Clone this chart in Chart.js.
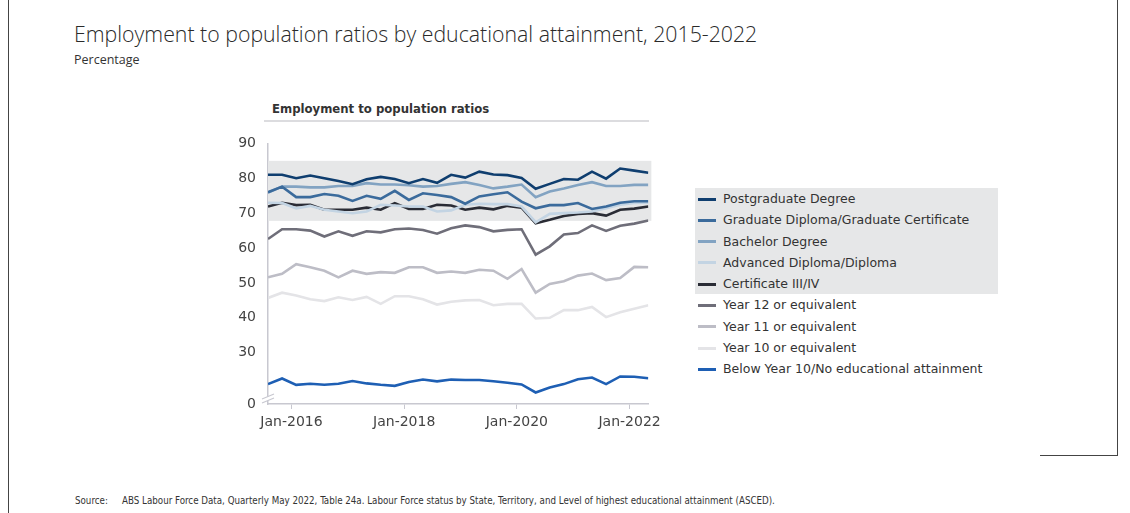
<!DOCTYPE html>
<html>
<head>
<meta charset="utf-8">
<script src="https://cdn.jsdelivr.net/npm/chart.js@4"></script>
<style>
  body { margin: 0; background: #fff; width: 1130px; height: 513px; overflow: hidden; position: relative; font-family: "DejaVu Sans", sans-serif; color: #333; }
  .frame-l { position: absolute; left: 8px; top: 0; width: 1px; height: 513px; background: #444; }
  .frame-r { position: absolute; left: 1117px; top: 0; width: 1px; height: 456px; background: #444; }
  .frame-b { position: absolute; left: 1040px; top: 455px; width: 78px; height: 1px; background: #444; }
  #title { position: absolute; left: 74px; top: 19px; font-family: "Open Sans", sans-serif; font-weight: 300; font-size: 21.3px; color: #2a2a2a; white-space: nowrap; }
  #subtitle { position: absolute; left: 74px; top: 51px; font-family: "Open Sans", sans-serif; font-size: 12.5px; color: #333; }
  #ctitle { position: absolute; left: 272px; top: 102px; font-family: "DejaVu Sans", sans-serif; font-weight: bold; font-size: 11.7px; color: #333; white-space: nowrap; }
  #cline { position: absolute; left: 264px; top: 120px; width: 385px; height: 2px; background: #dcdcdf; }
  #wrap { position: absolute; left: 220px; top: 123px; width: 446px; height: 311px; }
  #legend { position: absolute; left: 695px; top: 188px; font-size: 12.5px; color: #333; }
  #legend .item { position: relative; height: 21.3px; line-height: 21.3px; padding-left: 28px; white-space: nowrap; width: 275px; }
  #legend .item.shade { background: #e6e7e8; }
  #legend .swatch { position: absolute; left: 3px; top: 9.5px; width: 18px; height: 3px; }
  #source { position: absolute; left: 75px; top: 495px; font-family: "DejaVu Sans Condensed", "DejaVu Sans", sans-serif; font-size: 9.7px; color: #333; white-space: nowrap; }
  #source span { display: inline-block; width: 47px; }
</style>
</head>
<body>
<div class="frame-l"></div><div class="frame-r"></div><div class="frame-b"></div>
<div id="title">Employment to population ratios by educational attainment, 2015-2022</div>
<div id="subtitle">Percentage</div>
<div id="ctitle">Employment to population ratios</div>
<div id="cline"></div>
<div id="wrap"><canvas id="line-chart"></canvas></div>
<div id="legend"></div>
<div id="source"><span>Source:</span>ABS Labour Force Data, Quarterly May 2022, Table 24a. Labour Force status by State, Territory, and Level of highest educational attainment (ASCED).</div>
<script>
// quarterly observations
const quarters = ['Aug-2015','Nov-2015','Feb-2016','May-2016','Aug-2016','Nov-2016','Feb-2017','May-2017',
  'Aug-2017','Nov-2017','Feb-2018','May-2018','Aug-2018','Nov-2018','Feb-2019','May-2019',
  'Aug-2019','Nov-2019','Feb-2020','May-2020','Aug-2020','Nov-2020','Feb-2021','May-2021',
  'Aug-2021','Nov-2021','Feb-2022','May-2022'];

const postgrad  = [81.0,81.0,80.0,80.8,80.0,79.2,78.3,79.7,80.4,79.8,78.6,79.8,78.7,81.0,80.2,81.9,81.1,80.9,80.1,77.0,78.4,79.8,79.6,81.9,79.9,82.8,82.2,81.6];
const gradDip   = [76.0,77.6,74.6,74.6,75.5,75.0,73.5,75.0,74.1,76.4,73.8,75.7,75.2,74.6,72.7,74.8,75.4,76.0,73.3,71.4,72.3,72.3,72.9,71.2,71.9,73.0,73.4,73.4];
const bachelor  = [75.9,77.6,77.6,77.4,77.4,77.8,77.8,78.6,78.2,78.2,78.0,77.6,77.8,78.4,78.9,78.1,77.1,77.6,78.2,74.6,76.2,77.1,78.1,78.9,77.8,77.8,78.1,78.1];
const advDip    = [73.0,72.9,71.4,72.1,71.0,70.5,70.0,70.5,72.4,72.2,71.9,71.9,70.5,70.8,72.4,72.7,72.6,72.6,71.9,67.4,69.8,70.0,70.2,70.5,71.4,72.4,72.9,73.0];
const certIII   = [71.9,73.0,72.3,72.4,71.0,71.0,71.0,71.6,71.0,72.9,71.2,71.2,72.4,72.2,71.0,71.6,71.1,72.1,71.6,67.1,68.1,69.2,69.8,70.0,69.3,71.0,71.3,71.9];
const year12    = [62.6,65.4,65.4,65.0,63.3,64.8,63.5,64.8,64.5,65.4,65.6,65.2,64.1,65.7,66.5,66.0,64.8,65.2,65.4,58.1,60.5,63.9,64.3,66.5,64.9,66.4,67.0,67.9];
const year11    = [51.6,52.6,55.4,54.5,53.5,51.6,53.5,52.6,53.1,52.9,54.5,54.5,52.9,53.3,52.9,53.8,53.5,51.2,54.0,47.2,49.7,50.5,52.1,52.7,50.8,51.4,54.6,54.5];
const year10    = [45.7,47.2,46.4,45.3,44.8,45.9,45.1,46.0,44.0,46.2,46.2,45.3,43.8,44.6,45.0,45.1,43.6,44.0,44.0,39.8,40.0,42.2,42.2,43.1,40.2,41.6,42.6,43.6];
const belowY10  = [21.0,22.6,20.8,21.1,20.8,21.1,21.9,21.2,20.8,20.5,21.6,22.3,21.8,22.3,22.2,22.2,21.8,21.4,20.9,18.6,20.0,21.0,22.4,22.9,21.0,23.2,23.1,22.7];

// tick labels
const xTickYears = [2016, 2018, 2020, 2022];
const yTicks = [30, 40, 50, 60, 70, 80, 90];
const yBreak = 15.3;   // shown as "0" below the axis break
const band = [67.8, 85];

const months = {Jan:0,Feb:1,Mar:2,Apr:3,May:4,Jun:5,Jul:6,Aug:7,Sep:8,Oct:9,Nov:10,Dec:11};
const xs = quarters.map(q => { const p = q.split('-'); return +p[1] + months[p[0]] / 12; });
const pts = arr => arr.map((v, i) => ({x: xs[i], y: v}));

const series = [
  {label: 'Postgraduate Degree', data: postgrad, color: '#0f3e6f', shade: true},
  {label: 'Graduate Diploma/Graduate Certificate', data: gradDip, color: '#3b6b9c', shade: true},
  {label: 'Bachelor Degree', data: bachelor, color: '#82a3c2', shade: true},
  {label: 'Advanced Diploma/Diploma', data: advDip, color: '#c3d4e3', shade: true},
  {label: 'Certificate III/IV', data: certIII, color: '#2a2c35', shade: true},
  {label: 'Year 12 or equivalent', data: year12, color: '#6f6e79', shade: false},
  {label: 'Year 11 or equivalent', data: year11, color: '#bdbdc6', shade: false},
  {label: 'Year 10 or equivalent', data: year10, color: '#e4e4e7', shade: false},
  {label: 'Below Year 10/No educational attainment', data: belowY10, color: '#1e5fb4', shade: false}
];

// legend
const leg = document.getElementById('legend');
series.forEach(s => {
  const d = document.createElement('div');
  d.className = 'item' + (s.shade ? ' shade' : '');
  d.innerHTML = '<span class="swatch" style="background:' + s.color + '"></span>' + s.label;
  leg.appendChild(d);
});

const bandPlugin = {
  id: 'band',
  beforeDatasetsDraw(chart) {
    const {ctx, chartArea, scales} = chart;
    const y1 = scales.y.getPixelForValue(band[1]);
    const y0 = scales.y.getPixelForValue(band[0]);
    ctx.save();
    ctx.fillStyle = '#e6e7e8';
    ctx.fillRect(chartArea.left, y1, chartArea.right - chartArea.left + 3, y0 - y1);
    ctx.restore();
  },
  afterDraw(chart) {
    // axis break marks
    const {ctx, chartArea, scales} = chart;
    const yb = scales.y.getPixelForValue(yBreak) - 7;
    const x = chartArea.left;
    ctx.save();
    ctx.strokeStyle = '#fff';
    ctx.lineWidth = 4;
    ctx.beginPath(); ctx.moveTo(x - 6, yb + 4); ctx.lineTo(x + 6, yb - 1); ctx.stroke();
    ctx.strokeStyle = '#c8c8d0';
    ctx.lineWidth = 1.2;
    ctx.beginPath();
    ctx.moveTo(x - 6, yb + 2); ctx.lineTo(x + 6, yb - 3);
    ctx.moveTo(x - 6, yb + 6); ctx.lineTo(x + 6, yb + 1);
    ctx.stroke();
    ctx.restore();
  }
};

new Chart(document.getElementById('line-chart'), {
  type: 'line',
  data: {
    datasets: series.map(s => ({
      label: s.label,
      data: pts(s.data),
      borderColor: s.color,
      backgroundColor: s.color,
      borderWidth: 2.6,
      pointRadius: 0,
      tension: 0,
      fill: false
    }))
  },
  options: {
    responsive: true,
    maintainAspectRatio: false,
    animation: false,
    layout: {padding: {top: 12, right: 6, left: 0, bottom: 0}},
    plugins: {legend: {display: false}, tooltip: {enabled: false}},
    scales: {
      x: {
        type: 'linear',
        min: xs[0],
        max: xs[xs.length - 1],
        afterBuildTicks: sc => { sc.ticks = xTickYears.map(v => ({value: v})); },
        afterFit: sc => { sc.height = 30; },
        ticks: {
          callback: v => 'Jan-' + v,
          color: '#444',
          font: {family: 'DejaVu Sans', size: 14},
          padding: 5,
          maxRotation: 0,
          autoSkip: false
        },
        grid: {drawOnChartArea: false, tickLength: 5, color: '#c8c8d0'},
        border: {color: '#c8c8d0', width: 1.5}
      },
      y: {
        min: yBreak,
        max: 90,
        afterBuildTicks: sc => { sc.ticks = [yBreak].concat(yTicks).map(v => ({value: v})); },
        afterFit: sc => { sc.width = 48; },
        ticks: {
          callback: v => (v < 20 ? '0' : v),
          color: '#444',
          font: {family: 'DejaVu Sans', size: 14},
          padding: 12,
          autoSkip: false
        },
        grid: {display: false, drawTicks: false},
        border: {color: '#c8c8d0', width: 1.5}
      }
    }
  },
  plugins: [bandPlugin]
});
</script>
</body>
</html>
